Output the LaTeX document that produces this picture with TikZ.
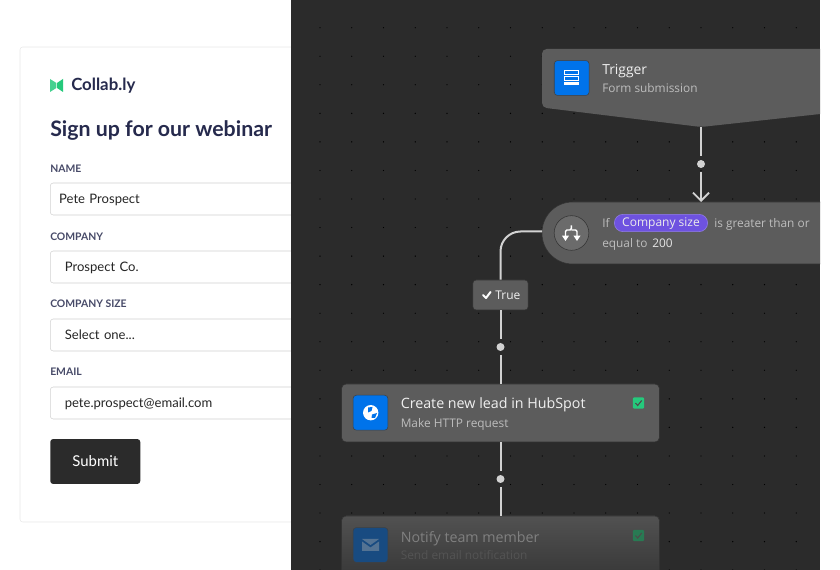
\documentclass[tikz,border=0pt]{standalone}
\usepackage{fontspec}
\setmainfont{Open Sans}
\newfontfamily\formfont{Lato}
\usetikzlibrary{calc, arrows.meta}
\definecolor{panel}{HTML}{2B2B2B}
\definecolor{cardgrey}{HTML}{5C5C5C}
\definecolor{wire}{HTML}{D2D2D2}
\definecolor{brand}{HTML}{0073EA}
\definecolor{navy}{HTML}{262A4D}
\definecolor{purple}{HTML}{6E52E0}
\definecolor{tick}{HTML}{25C97C}
\definecolor{soft}{HTML}{BDBDBD}
\begin{document}
\begin{tikzpicture}[x=0.75pt, y=-0.75pt]
\tikzset{FieldStyle/.style = {anchor= west, draw= black!18, fill= white, rounded corners= 2.2pt, text width= 190pt, text height= 7.5pt, text depth= 1.1pt, minimum height= 24pt, inner xsep= 10.9pt, inner ysep= 0pt, text= black!85, font= \formfont\fontsize{9.8}{12}\selectfont},
  LabelStyle/.style = {anchor= base west, inner sep= 0pt, text= navy!85, font= \formfont\bfseries\fontsize{7.8}{10}\selectfont},
  CardStyle/.style = {fill= cardgrey, draw= black!80, rounded corners= 3.5pt, outer sep= 0pt},
  IconStyle/.style = {fill= brand, draw= black!75, rounded corners= 2.5pt, minimum size= 26.2pt, inner sep= 0pt},
  TitleStyle/.style = {anchor= base west, inner sep= 0pt, text= white!94!black, font= \fontsize{10.7}{13}\selectfont},
  SubStyle/.style = {anchor= base west, inner sep= 0pt, text= soft, font= \fontsize{8.9}{11}\selectfont},
  DotStyle/.style = {circle, fill= wire, minimum size= 6pt, inner sep= 0pt, outer sep= 3pt},
  LineStyle/.style = {draw= wire, line width= 1.5pt},
  TickStyle/.style = {fill= tick, rounded corners= 1pt, minimum size= 8.6pt, inner sep= 0pt}
}
    \useasboundingbox (0,0) rectangle (840,570);

    % Form
    \draw [black!9, fill= white, rounded corners= 2pt] (20,47) rectangle (310,522);
    \fill [tick!85!white] (50,79) -- (56.4,83) -- (56.4,88) -- (50,92) -- cycle;
    \fill [tick] (63,79) -- (57,83) -- (57,88) -- (63,92) -- cycle;
    \node [anchor= base west, inner sep= 0pt, text= navy, font= \formfont\bfseries\fontsize{12.6}{15}\selectfont] (brandname) at (71,91) {Collab.ly};
    \node [anchor= base west, inner sep= 0pt, text= navy, font= \formfont\bfseries\fontsize{16}{20}\selectfont] (heading) at (50,137) {Sign up for our webinar};

    \node[LabelStyle] (label1) at (50,172.5) {NAME};
    \node[FieldStyle, inner xsep= 6.7pt] (field1) at (50,199) {Pete Prospect};
    \node[LabelStyle] (label2) at (50,240.5) {COMPANY};
    \node[FieldStyle] (field2) at (50,267) {Prospect Co.};
    \node[LabelStyle] (label3) at (50,308) {COMPANY SIZE};
    \node[FieldStyle] (field3) at (50,335) {Select one...};
    \node[LabelStyle] (label4) at (50,375.5) {EMAIL};
    \node[FieldStyle] (field4) at (50,403) {pete.prospect@email.com};

    \node [anchor= west, fill= panel, rounded corners= 2.2pt, minimum width= 67.5pt, minimum height= 33.7pt, inner sep= 0pt, text= white, font= \formfont\fontsize{11.2}{13}\selectfont] (submit) at (50,461.5) {Submit};

    % Panel and its dots
    \fill [panel] (291,0) rectangle (820,570);
    \foreach \i in {0,...,15}
        \foreach \j in {0,...,19}
            \fill [black] ($(320,27.7)+(31.75*\i,28.55*\j)$) circle (0.5pt);

    \begin{scope}
    \clip (291,0) rectangle (820,570);

    % Cards
    \fill [cardgrey, rounded corners= 3.5pt] (542,49) -- (542,107.5) -- (701,127) -- (880,107.5) -- (880,49) -- cycle;
    \coordinate (trigtip) at (701,127);
    \node[CardStyle, anchor= west, rounded corners= 23pt, minimum width= 253.5pt, minimum height= 46.5pt] (cond) at (542,233) {};
    \coordinate (condtop) at (701,202);
    \coordinate (condleft) at (542,231.5);
    \node[CardStyle, minimum width= 238.5pt, minimum height= 43.5pt] (card1) at (500.5,413) {};
    \node[CardStyle, top color= cardgrey!78!panel, bottom color= panel!90!cardgrey, minimum width= 238.5pt, minimum height= 60pt] (card2) at (500.5,556) {};

    % Connectors
    \node[DotStyle] (dot1) at (701,164) {};
    \node[DotStyle] (dot2) at (500.5,347) {};
    \node[DotStyle] (dot3) at (500.5,479) {};
    \node [fill= cardgrey, draw= black!80, rounded corners= 2.5pt, minimum width= 41.5pt, minimum height= 22.5pt, inner sep= 0pt, text= white!94!black, font= \fontsize{9}{11}\selectfont] (truebox) at (500.5,295) {\hspace*{11pt}True};

    \draw [LineStyle] (trigtip) -- (dot1);
    \draw [LineStyle, -{Straight Barb[length= 6pt, width= 12pt, line width= 1.4pt]}] (dot1) -- (condtop);
    \draw [LineStyle, rounded corners= 15pt] (condleft) -| (truebox.north);
    \draw [LineStyle] (truebox) -- (dot2);
    \draw [LineStyle] (dot2) -- (card1);
    \draw [LineStyle] (card1) -- (dot3);
    \draw [LineStyle] (dot3) -- (card2);
    \draw [white, line width= 1.5pt, line cap= round, line join= round] (483,295) -- (486,298) -- (490.5,292);

    % Trigger
    \node[IconStyle] (icon1) at (571.7,78) {};
    \draw [white, line width= 0.7pt] (564.8,70.5) rectangle (578.6,74.3);
    \draw [white, line width= 0.7pt] (564.8,76.5) rectangle (578.6,80.3);
    \fill [white] (564.3,82.3) rectangle (579,85.5);
    \node[TitleStyle, font= \fontsize{10.4}{13}\selectfont] (title1) at (602,75) {Trigger};
    \node[SubStyle] (sub1) at (602,93) {Form submission};

    % Condition
    \node [circle, fill= white!42!black, draw= black!80, minimum size= 26pt, inner sep= 0pt] (icon2) at (571.5,233) {};
    \draw [white, line width= 1.1pt, -{Triangle[length= 4pt, width= 5pt]}, rounded corners= 1pt] (571.3,225.5) -- (571.3,230) -- (565.5,230) -- (565.5,241);
    \draw [white, line width= 1.1pt, -{Triangle[length= 4pt, width= 5pt]}, rounded corners= 1pt] (571.3,230) -- (577,230) -- (577,241);
    \node[SubStyle] (if) at (602,228) {If};
    \node [fill= purple, draw= purple!75!white, rounded corners= 6.5pt, minimum width= 70pt, minimum height= 13pt, inner sep= 0pt, text height= 6.9pt, text depth= 1.2pt, text= white!92!black, font= \fontsize{9}{11}\selectfont] (pill) at (661,223) {Company size};
    \node[SubStyle] (rest1) at (714,228) {is greater than or};
    \node[SubStyle] (rest2) at (602,248) {equal to};
    \node[SubStyle, text= white!90!black] (rest3) at (652,248) {200};

    % HubSpot
    \node[IconStyle] (icon3) at (370.5,412.7) {};
    \node [circle, fill= white, minimum size= 11.5pt, inner sep= 0pt] (globe) at (370.7,412.7) {};
    \fill [brand] (368,407.5) -- (372.5,407) -- (371.5,411) -- (368,412.5) -- cycle;
    \fill [brand] (372,414.5) -- (377,413) -- (375,418) -- (371.5,418) -- cycle;
    \node[TitleStyle] (title3) at (400.5,409) {Create new lead in HubSpot};
    \node[SubStyle] (sub3) at (400.5,428) {Make HTTP request};
    \node[TickStyle] (tick3) at (638.5,403) {};
    \draw [black!70, line width= 0.8pt] (635.5,403) -- (637.7,405.5) -- (641.7,400.5);

    % Notify
    \node[IconStyle, fill= brand!45!panel] (icon4) at (370.5,545) {};
    \fill [white!55!brand!60!black] (362,539) -- (379,539) -- (370.5,545) -- cycle;
    \fill [white!55!brand!60!black] (362,541.5) -- (370.5,547.5) -- (379,541.5) -- (379,551) -- (362,551) -- cycle;
    \node[TitleStyle, text= white!50!black] (title4) at (400.5,542) {Notify team member};
    \node[SubStyle, text= white!33!black] (sub4) at (400.5,560) {Send email notification};
    \node[TickStyle, fill= tick!50!panel] (tick4) at (638.5,535.5) {};
    \draw [black!70, line width= 0.8pt] (635.5,535.5) -- (637.7,538) -- (641.7,533);
    \end{scope}
\end{tikzpicture}
\end{document}
